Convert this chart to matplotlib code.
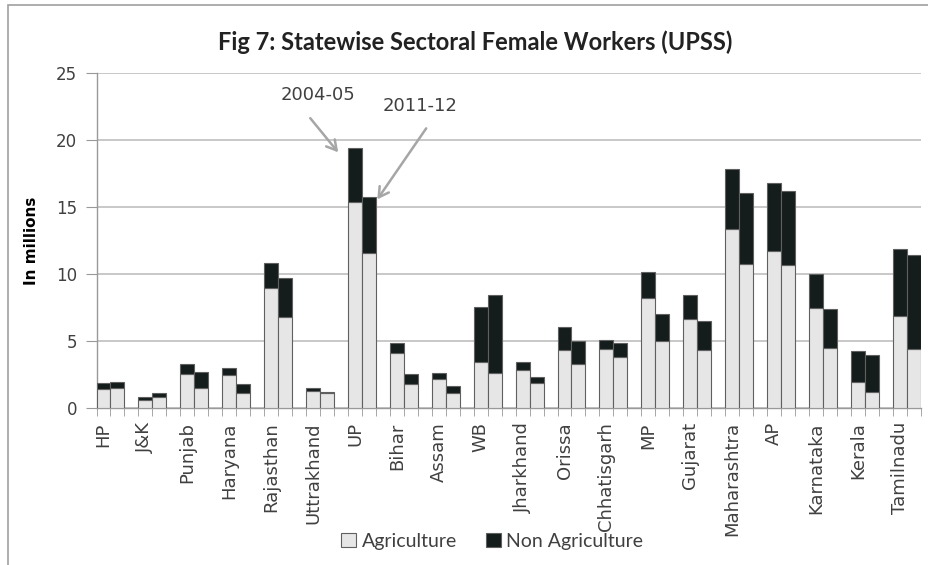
import numpy as np
import matplotlib
matplotlib.use("Agg")
import matplotlib.pyplot as plt
from matplotlib.patches import Rectangle

# Female workers (UPSS), millions: agriculture and total, 2004-05 vs 2011-12
states = ["HP", "J&K", "Punjab", "Haryana", "Rajasthan", "Uttrakhand", "UP",
          "Bihar", "Assam", "WB", "Jharkhand", "Orissa", "Chhatisgarh", "MP",
          "Gujarat", "Maharashtra", "AP", "Karnataka", "Kerala", "Tamilnadu"]
years = ["2004-05", "2011-12"]

agri_2004 = [1.44, 0.62, 2.56, 2.49, 8.96, 1.31, 15.42, 4.10, 2.16, 3.43,
             2.86, 4.35, 4.43, 8.21, 6.64, 13.36, 11.76, 7.46, 1.94, 6.91]
total_2004 = [1.87, 0.87, 3.31, 2.98, 10.82, 1.49, 19.40, 4.85, 2.61, 7.58,
              3.46, 6.09, 5.10, 10.19, 8.46, 17.86, 16.84, 10.02, 4.30, 11.91]
agri_2011 = [1.49, 0.82, 1.54, 1.16, 6.84, 1.12, 11.57, 1.79, 1.16, 2.66,
             1.87, 3.28, 3.81, 5.05, 4.35, 10.77, 10.69, 4.52, 1.24, 4.43]
total_2011 = [1.99, 1.12, 2.69, 1.81, 9.70, 1.24, 15.79, 2.54, 1.66, 8.46,
              2.36, 5.02, 4.85, 7.04, 6.51, 16.04, 16.22, 7.39, 4.00, 11.44]

agri_2004 = np.array(agri_2004)
agri_2011 = np.array(agri_2011)
nonagri_2004 = np.array(total_2004) - agri_2004
nonagri_2011 = np.array(total_2011) - agri_2011

AGRI_COLOR = "#e6e6e6"
NONAGRI_COLOR = "#141c1c"
EDGE = "#606060"
TEXT = "#404040"
NARROW = ["Lato", "DejaVu Sans"]

plt.rcParams["font.family"] = ["DejaVu Sans"]

fig = plt.figure(figsize=(9.29, 5.65), dpi=100)
ax = fig.add_axes([0.1039, 0.2773, 0.8872, 0.5930])

# each state takes three slots: 2004-05 bar, 2011-12 bar, empty gap
n = len(states)
x04 = np.arange(n) * 3
x11 = x04 + 1
bar_kw = dict(width=1.0, edgecolor=EDGE, linewidth=0.8, zorder=3)

ax.bar(x04, agri_2004, color=AGRI_COLOR, label="Agriculture", **bar_kw)
ax.bar(x11, agri_2011, color=AGRI_COLOR, **bar_kw)
ax.bar(x04, nonagri_2004, bottom=agri_2004, color=NONAGRI_COLOR,
       label="Non Agriculture", **bar_kw)
ax.bar(x11, nonagri_2011, bottom=agri_2011, color=NONAGRI_COLOR, **bar_kw)

ax.set_xlim(-0.5, x11[-1] + 0.5)
ax.set_ylim(0, 25)
ax.set_yticks(np.arange(0, 26, 5))
ax.grid(axis="y", color="#bfbfbf", linewidth=1.2, zorder=0)

for side in ["top", "right"]:
    ax.spines[side].set_visible(False)
for side in ["left", "bottom"]:
    ax.spines[side].set_color("#999999")
    ax.spines[side].set_linewidth(1.0)

ax.set_xticks(x04)
ax.set_xticks(np.arange(-0.5, x11[-1] + 1), minor=True)
ax.tick_params(axis="x", which="major", length=0, pad=10, labelsize=13,
               labelrotation=90, labelcolor=TEXT)
ax.tick_params(axis="x", which="minor", length=6, color="#999999")
ax.tick_params(axis="y", length=8, color="#999999", pad=6, labelsize=12,
               labelcolor=TEXT)
ax.set_xticklabels(states)

ax.set_ylabel("In millions", fontsize=11, fontweight="bold", labelpad=12)

fig.text(0.512, 0.925, "Fig 7: Statewise Sectoral Female Workers (UPSS)",
         ha="center", va="center", fontsize=17, fontweight="bold",
         family=NARROW, color="#222222")

# year call-outs on the UP pair
up = states.index("UP")
arrow = dict(arrowstyle="->,head_length=0.7,head_width=0.4",
             color="#a6a6a6", lw=1.8, shrinkA=0, shrinkB=0)
ax.annotate("", xy=(x04[up] - 1.2, total_2004[up] - 0.3),
            xytext=(x04[up] - 3.2, total_2004[up] + 2.25), arrowprops=arrow)
ax.text(x04[up] - 2.65, total_2004[up] + 4.0, years[0], ha="center",
        va="center", fontsize=13, color=TEXT)
ax.annotate("", xy=(x11[up] + 0.6, total_2011[up] - 0.2),
            xytext=(x11[up] + 4.1, total_2011[up] + 5.1), arrowprops=arrow)
ax.text(x11[up] + 3.65, total_2011[up] + 6.8, years[1], ha="center",
        va="center", fontsize=13, color=TEXT)

leg = fig.legend(loc="center", bbox_to_anchor=(0.530, 0.042), ncol=2,
                 frameon=False, handlelength=0.75, handleheight=0.75,
                 handletextpad=0.3, columnspacing=1.5,
                 prop={"family": NARROW, "size": 14})
for t in leg.get_texts():
    t.set_color(TEXT)

# outer chart border
fig.add_artist(Rectangle((8 / 929, -0.1), 1.2, 1.1 - 5 / 565,
                         transform=fig.transFigure, fill=False,
                         edgecolor="#a0a0a0", linewidth=1.2))

fig.savefig("out.png", dpi=100)
